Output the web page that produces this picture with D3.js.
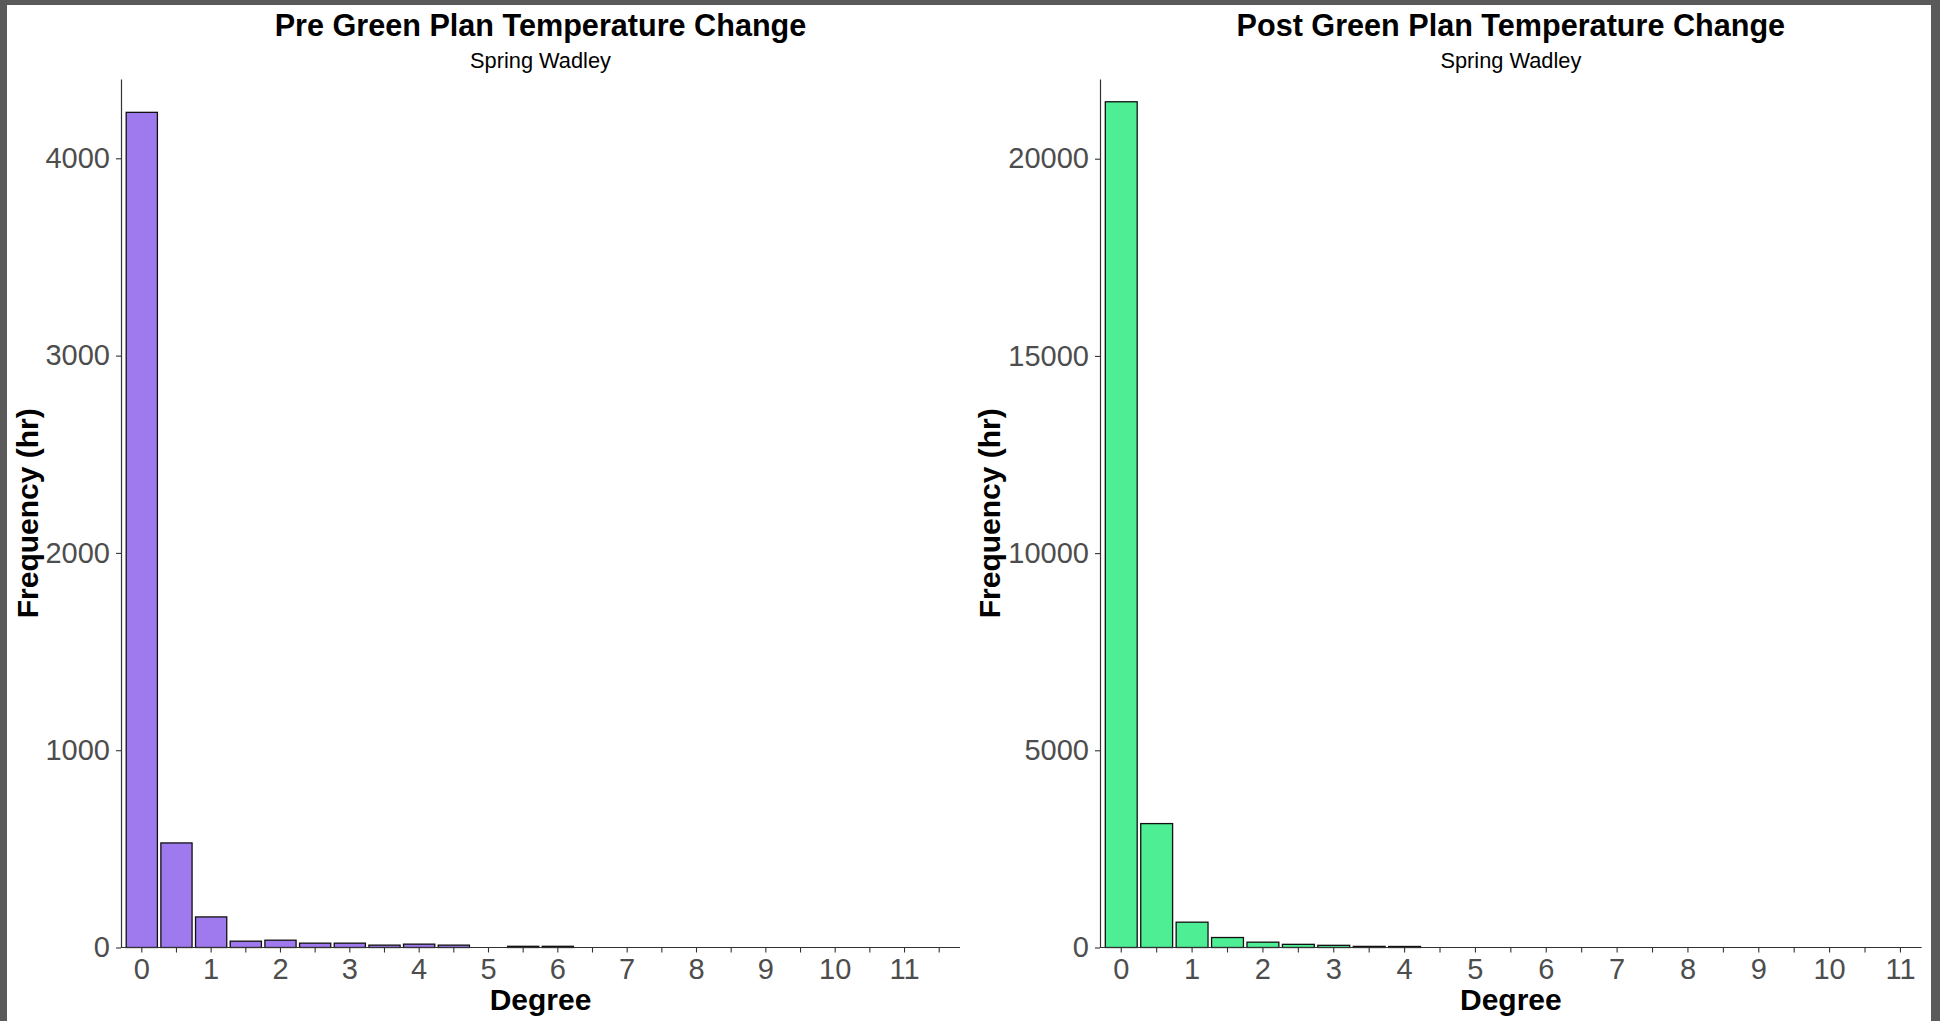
<!DOCTYPE html>
<html>
<head>
<meta charset="utf-8">
<script src="https://cdn.jsdelivr.net/npm/d3@7"></script>
<style>
  html, body { margin: 0; padding: 0; background: #5a5a5a; }
  svg { display: block; }
  text { font-family: "Liberation Sans", Arial, sans-serif; }
</style>
</head>
<body>
<svg id="chart" width="1940" height="1021"></svg>
<script>
// Temperature change bins (degrees, 0.5 wide) and hourly frequencies
const preCategories = ["0","0.5","1","1.5","2","2.5","3","3.5","4","4.5","5","5.5",
                       "6","6.5","7","7.5","8","8.5","9","9.5","10","10.5","11","11.5"];
const preCounts = [4233, 530, 155, 32, 37, 22, 22, 12, 17, 12, 0, 6,
                   6, 0, 0, 0, 0, 0, 0, 0, 0, 0, 0, 0];

const postCategories = ["0","0.5","1","1.5","2","2.5","3","3.5","4","4.5","5","5.5",
                        "6","6.5","7","7.5","8","8.5","9","9.5","10","10.5","11"];
const postCounts = [21444, 3142, 642, 253, 135, 80, 55, 28, 26, 0, 0, 0,
                    0, 0, 0, 0, 0, 0, 0, 0, 0, 0, 0];

const preYTicks = [0, 1000, 2000, 3000, 4000];
const postYTicks = [0, 5000, 10000, 15000, 20000];
const xTickLabels = ["0","1","2","3","4","5","6","7","8","9","10","11"];

const preTitle = "Pre Green Plan Temperature Change";
const postTitle = "Post Green Plan Temperature Change";
const subtitle = "Spring Wadley";
const xTitle = "Degree";
const yTitle = "Frequency (hr)";

const preYMax = 4402;
const postYMax = 22021;

const svg = d3.select("#chart");

// white canvas inside the dark frame
svg.append("rect")
  .attr("x", 7).attr("y", 5)
  .attr("width", 1924).attr("height", 1016)
  .attr("fill", "#ffffff");

function drawPanel(opts) {
  const { left, right, categories, counts, yTicks, yMax, fill, title, titleX } = opts;
  const top = 79, bottom = 947.5;

  const x = d3.scaleBand()
    .domain(categories)
    .range([left, right])
    .paddingInner(0.1)
    .paddingOuter(0.15);

  const y = d3.scaleLinear()
    .domain([0, yMax])
    .range([bottom, top]);

  const g = svg.append("g");

  // bars
  const data = categories.map((c, i) => ({ c, v: counts[i] })).filter(d => d.v > 0);
  g.append("g").selectAll("rect")
    .data(data)
    .join("rect")
    .attr("x", d => x(d.c))
    .attr("width", x.bandwidth())
    .attr("y", d => y(d.v))
    .attr("height", d => y(0) - y(d.v))
    .attr("fill", fill)
    .attr("stroke", "#111111")
    .attr("stroke-width", 1.3);

  // x axis: ticks at every bin, labels at whole degrees
  const xAxis = d3.axisBottom(x)
    .tickSizeInner(5)
    .tickSizeOuter(0)
    .tickPadding(6)
    .tickFormat(d => xTickLabels.includes(d) ? d : "");
  const gx = g.append("g")
    .attr("transform", `translate(0,${bottom})`)
    .call(xAxis);
  gx.select(".domain").attr("stroke", "#333333").attr("stroke-width", 1.2)
    .attr("d", `M${left},0H${right}`);
  gx.selectAll(".tick line").attr("stroke", "#333333").attr("stroke-width", 1.1);
  gx.selectAll(".tick text")
    .attr("fill", "#4d4d4d")
    .style("font-size", "29px");

  // y axis
  const yAxis = d3.axisLeft(y)
    .tickValues(yTicks)
    .tickSizeInner(5)
    .tickSizeOuter(0)
    .tickPadding(6)
    .tickFormat(d3.format("d"));
  const gy = g.append("g")
    .attr("transform", `translate(${left},0)`)
    .call(yAxis);
  gy.select(".domain").attr("stroke", "#333333").attr("stroke-width", 1.2);
  gy.selectAll(".tick line").attr("stroke", "#333333").attr("stroke-width", 1.1);
  gy.selectAll(".tick text")
    .attr("fill", "#4d4d4d")
    .style("font-size", "29px");

  const cx = (left + right) / 2;

  // titles
  g.append("text")
    .attr("x", cx).attr("y", 36)
    .attr("text-anchor", "middle")
    .style("font-size", "30.6px").style("font-weight", "bold")
    .attr("fill", "#000")
    .text(title);
  g.append("text")
    .attr("x", cx).attr("y", 68)
    .attr("text-anchor", "middle")
    .style("font-size", "21.8px")
    .attr("fill", "#000")
    .text(subtitle);

  // axis titles
  g.append("text")
    .attr("x", cx).attr("y", 1010)
    .attr("text-anchor", "middle")
    .style("font-size", "30px").style("font-weight", "bold")
    .attr("fill", "#000")
    .text(xTitle);
  g.append("text")
    .attr("transform", `translate(${titleX},${(top + bottom) / 2}) rotate(-90)`)
    .attr("text-anchor", "middle")
    .style("font-size", "30px").style("font-weight", "bold")
    .attr("fill", "#000")
    .text(yTitle);
}

drawPanel({
  left: 121, right: 960,
  categories: preCategories, counts: preCounts,
  yTicks: preYTicks, yMax: preYMax,
  fill: "#9f79ee", title: preTitle, titleX: 37.5
});

drawPanel({
  left: 1100, right: 1921.7,
  categories: postCategories, counts: postCounts,
  yTicks: postYTicks, yMax: postYMax,
  fill: "#4eee94", title: postTitle, titleX: 999.5
});
</script>
</body>
</html>
